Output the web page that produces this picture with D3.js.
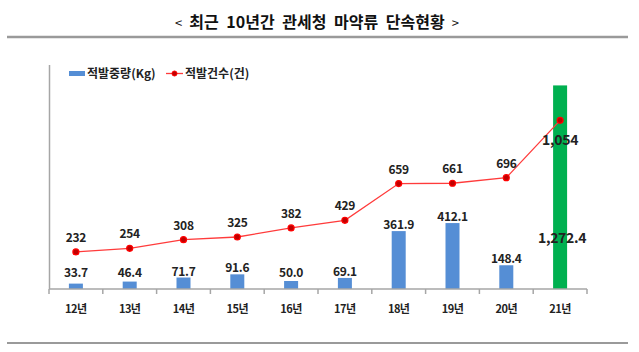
<!DOCTYPE html>
<html>
<head>
<meta charset="utf-8">
<script src="https://cdn.jsdelivr.net/npm/d3@7"></script>
<style>
  body { margin: 0; background: #fff; }
  text { font-family: "Noto Sans CJK KR", "Noto Sans", sans-serif; }
</style>
</head>
<body>
<div id="chart"></div>
<script>
// 연도, 적발중량(Kg), 적발건수(건)
var years = ["12년", "13년", "14년", "15년", "16년", "17년", "18년", "19년", "20년", "21년"];
var weights = [33.7, 46.4, 71.7, 91.6, 50.0, 69.1, 361.9, 412.1, 148.4, 1272.4];
var counts = [232, 254, 308, 325, 382, 429, 659, 661, 696, 1054];
var titleText = "최근 10년간 관세청 마약류 단속현황";

var width = 639, height = 352;
var svg = d3.select("#chart").append("svg")
    .attr("width", width)
    .attr("height", height);

// title + rules
var title = svg.append("text")
    .attr("x", 317).attr("y", 28)
    .attr("text-anchor", "middle")
    .style("font-size", "16px")
    .style("font-weight", "bold")
    .style("word-spacing", "4px")
    .attr("fill", "#111");
title.append("tspan").style("font-size", "13px").style("font-weight", "normal").text("<  ");
title.append("tspan").text(titleText);
title.append("tspan").style("font-size", "13px").style("font-weight", "normal").text("  >");

svg.append("line").attr("x1", 7).attr("x2", 628).attr("y1", 37).attr("y2", 37)
    .attr("stroke", "#9a9a9a").attr("stroke-width", 2.5);
svg.append("line").attr("x1", 7).attr("x2", 628).attr("y1", 343).attr("y2", 343)
    .attr("stroke", "#9a9a9a").attr("stroke-width", 2);

var x = d3.scaleBand().domain(years).range([49, 587]);
var y = d3.scaleLinear().domain([0, 1400]).range([289, 65]);

var data = years.map(function (d, i) {
    return { year: d, weight: weights[i], count: counts[i], last: i == years.length - 1 };
});

// y axis line
svg.append("line").attr("x1", 49.5).attr("x2", 49.5).attr("y1", 65).attr("y2", 289)
    .attr("stroke", "#a6a6a6").attr("stroke-width", 1.5);

// bars
var barW = 14;
svg.append("g").selectAll("rect")
    .data(data)
    .enter()
    .append("rect")
    .attr("x", function (d) { return x(d.year) + x.bandwidth() / 2 - barW / 2; })
    .attr("y", function (d) { return y(d.weight); })
    .attr("width", barW)
    .attr("height", function (d) { return y(0) - y(d.weight); })
    .attr("fill", function (d) { return d.last ? "#00b050" : "#558ed5"; });

// x axis
var xAxis = svg.append("g")
    .attr("transform", "translate(0,289)");
xAxis.append("line").attr("x1", 49).attr("x2", 587).attr("stroke", "#a6a6a6").attr("stroke-width", 1.5);
xAxis.selectAll(".tk")
    .data(d3.range(years.length + 1))
    .enter()
    .append("line")
    .attr("x1", function (i) { return 49 + i * x.step(); })
    .attr("x2", function (i) { return 49 + i * x.step(); })
    .attr("y1", 0).attr("y2", 5)
    .attr("stroke", "#a6a6a6").attr("stroke-width", 1.5);
xAxis.selectAll(".lbl")
    .data(years)
    .enter()
    .append("text")
    .attr("x", function (d) { return x(d) + x.bandwidth() / 2; })
    .attr("y", 24)
    .attr("text-anchor", "middle")
    .style("font-size", "11px")
    .style("font-weight", "bold")
    .style("letter-spacing", "-0.5px")
    .attr("fill", "#222")
    .text(function (d) { return d; });

// count line
var line = d3.line()
    .x(function (d) { return x(d.year) + x.bandwidth() / 2; })
    .y(function (d) { return y(d.count); });

svg.append("path")
    .datum(data)
    .attr("d", line)
    .attr("fill", "none")
    .attr("stroke", "#ff3b3b")
    .attr("stroke-width", 1.3);

svg.append("g").selectAll("circle")
    .data(data)
    .enter()
    .append("circle")
    .attr("cx", function (d) { return x(d.year) + x.bandwidth() / 2; })
    .attr("cy", function (d) { return y(d.count); })
    .attr("r", 3)
    .attr("fill", "#c00000")
    .attr("stroke", "#ff0000")
    .attr("stroke-width", 1.2);

// weight labels
svg.append("g").selectAll("text")
    .data(data)
    .enter()
    .append("text")
    .attr("x", function (d) { return x(d.year) + x.bandwidth() / 2 + (d.last ? 2 : 0); })
    .attr("y", function (d) {
        if (d.last) return y(d.weight / 4) + 5;
        return Math.min(y(d.weight) - 7, 272) + 5;
    })
    .attr("text-anchor", "middle")
    .style("font-size", function (d) { return d.last ? "14px" : "12px"; })
    .style("font-weight", "bold")
    .style("letter-spacing", "-0.3px")
    .attr("fill", "#222")
    .text(function (d) { return d3.format(",.1f")(d.weight); });

// count labels
svg.append("g").selectAll("text")
    .data(data)
    .enter()
    .append("text")
    .attr("x", function (d) { return x(d.year) + x.bandwidth() / 2; })
    .attr("y", function (d) { return d.last ? y(d.count) + 25 : y(d.count) - 10; })
    .attr("text-anchor", "middle")
    .style("font-size", function (d) { return d.last ? "14px" : "12px"; })
    .style("font-weight", "bold")
    .style("letter-spacing", "-0.3px")
    .attr("fill", "#222")
    .text(function (d) { return d3.format(",")(d.count); });

// legend
var lg = svg.append("g");
lg.append("rect").attr("x", 69).attr("y", 71).attr("width", 16).attr("height", 5).attr("fill", "#558ed5");
lg.append("text").attr("x", 87).attr("y", 77.5)
    .style("font-size", "12px").style("font-weight", "bold").attr("fill", "#222")
    .text("적발중량(Kg)");
lg.append("line").attr("x1", 166).attr("x2", 183).attr("y1", 73.5).attr("y2", 73.5)
    .attr("stroke", "#ff3b3b").attr("stroke-width", 1.3);
lg.append("circle").attr("cx", 174.5).attr("cy", 73.5).attr("r", 2.5)
    .attr("fill", "#c00000").attr("stroke", "#ff0000").attr("stroke-width", 1);
lg.append("text").attr("x", 185).attr("y", 77.5)
    .style("font-size", "12px").style("font-weight", "bold").attr("fill", "#222")
    .text("적발건수(건)");
</script>
</body>
</html>
